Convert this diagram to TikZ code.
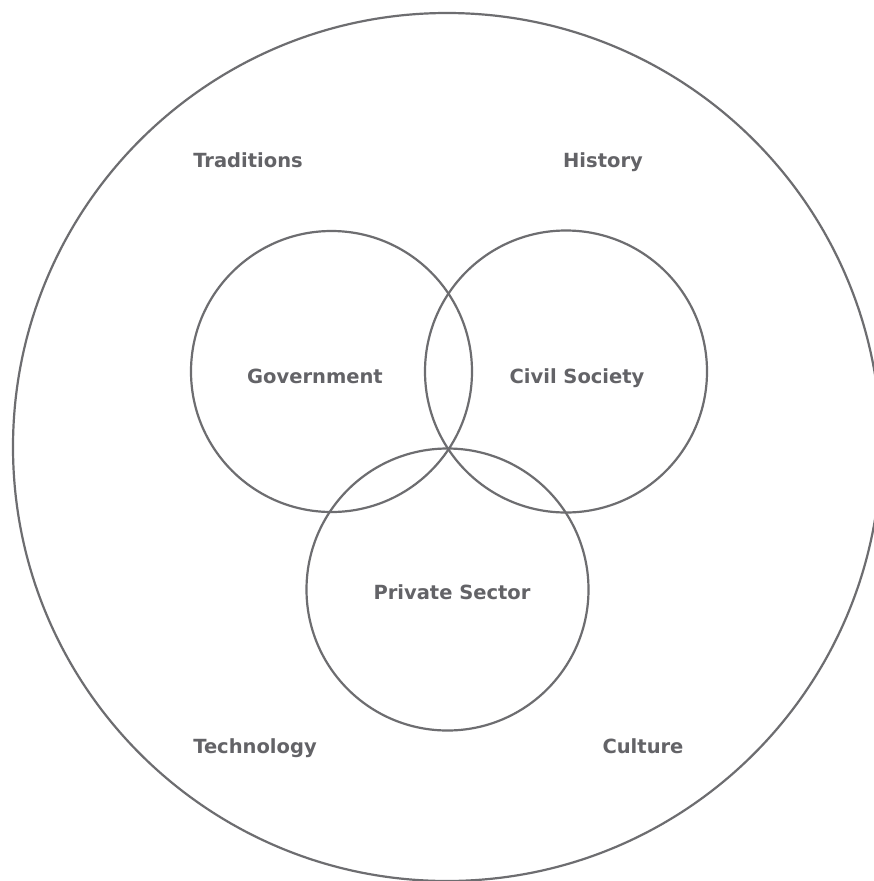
\documentclass[tikz,border=0pt]{standalone}
\usepackage{fontspec}
\setmainfont{DejaVu Sans}
\definecolor{linegray}{HTML}{6D6D70}
\definecolor{textgray}{HTML}{636367}
\begin{document}
\begin{tikzpicture}[x=1pt,y=-1pt,
  ring/.style={draw=linegray,line width=2.2pt},
  lbl/.style={text=textgray,font=\fontsize{19.5}{22}\selectfont\bfseries,inner sep=0pt,anchor=base}]
\useasboundingbox (0,0) rectangle (874,881);
\fill[white] (0,0) rectangle (874,881);
\clip (0,0) rectangle (874,881);
\draw[ring] (447,447) circle[radius=434];
\draw[ring] (331.5,371.5) circle[radius=140.5];
\draw[ring] (566,371.5) circle[radius=141];
\draw[ring] (447.5,589.5) circle[radius=141];
\node[lbl] (traditions) at (248,167) {Traditions};
\node[lbl] (history) at (603,167) {History};
\node[lbl] (government) at (315,383) {Government};
\node[lbl] (civil) at (577,383) {Civil Society};
\node[lbl] (private) at (452,599) {Private Sector};
\node[lbl] (technology) at (255,753) {Technology};
\node[lbl] (culture) at (643,753) {Culture};
\end{tikzpicture}
\end{document}
